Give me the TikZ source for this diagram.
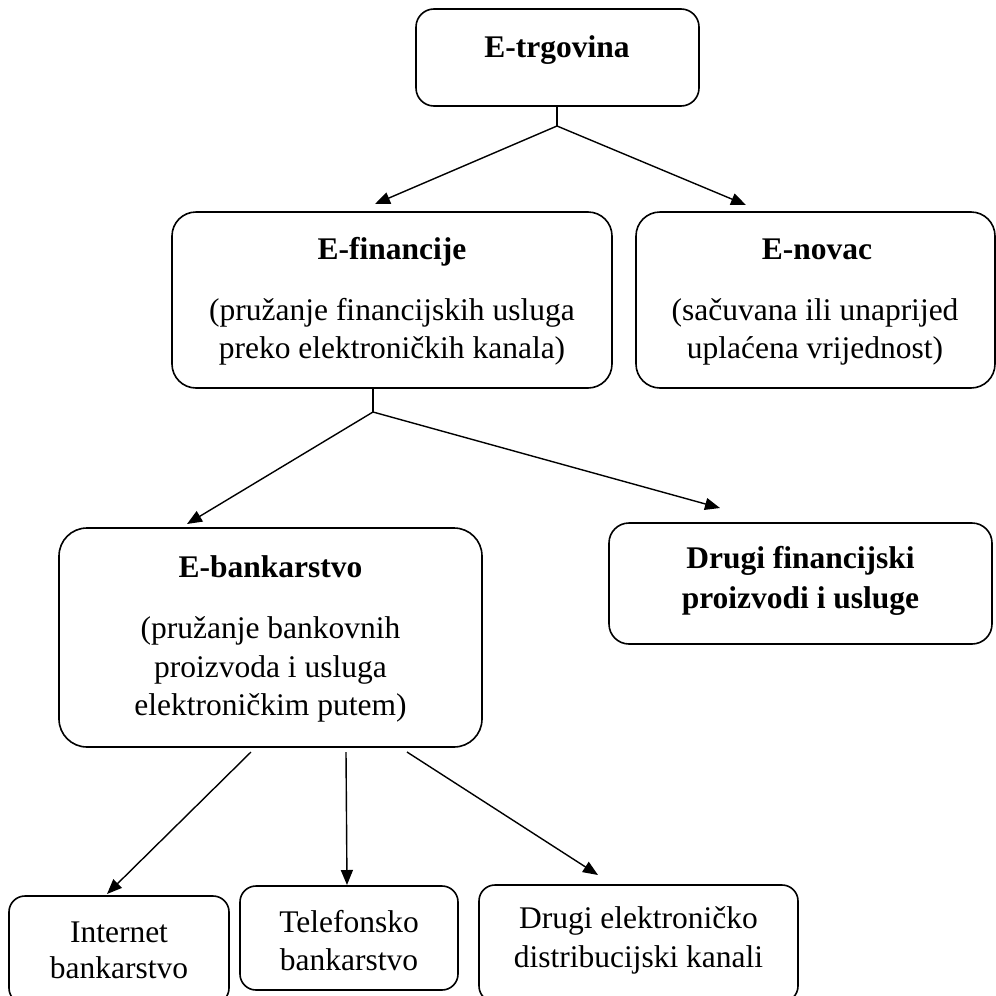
\documentclass[tikz,border=0pt]{standalone}
\usepackage{fontspec}
\setmainfont{Liberation Serif}
\usetikzlibrary{arrows.meta,calc}
\begin{document}
\begin{tikzpicture}[x=1pt,y=-1pt,
  box/.style={draw, line width=1.6pt, rounded corners=#1, inner sep=0pt, outer sep=0pt},
  box/.default=18pt,
  txt/.style={anchor=base, inner sep=0pt, font=\fontsize{31.5}{38}\selectfont},
  btxt/.style={anchor=base, inner sep=0pt, font=\fontsize{31.5}{38}\selectfont\bfseries},
  arr/.style={line width=1.4pt, -{Triangle[length=15pt,width=12pt]}},
  ln/.style={line width=1.4pt}]
\useasboundingbox (0,0) rectangle (996,996);
\clip (0,0) rectangle (996,996);

% boxes
\node[box=18pt, minimum width=283pt, minimum height=97pt] (trg) at (557.5,57.5) {};
\node[box=24pt, minimum width=440pt, minimum height=176pt] (fin) at (392,300) {};
\node[box=24pt, minimum width=359pt, minimum height=176pt] (nov) at (815.5,300) {};
\node[box=28pt, minimum width=423pt, minimum height=219pt] (bank) at (270.5,637.5) {};
\node[box=20pt, minimum width=383pt, minimum height=121pt] (dfp) at (800.5,583.5) {};
\node[box=16pt, minimum width=220pt, minimum height=108pt] (inet) at (119,950) {};
\node[box=16pt, minimum width=218pt, minimum height=104pt] (tel) at (349,938) {};
\node[box=16pt, minimum width=319pt, minimum height=117pt] (del) at (638.5,943.5) {};

% texts
\node[btxt] (trgA) at (557,57) {E-trgovina};
\node[btxt] (finA) at (392,259) {E-financije};
\node[txt] (finB) at (392,320) {(pružanje financijskih usluga};
\node[txt] (finC) at (392,358) {preko elektroničkih kanala)};
\node[btxt] (novA) at (817,259) {E-novac};
\node[txt] (novB) at (815,320) {(sačuvana ili unaprijed};
\node[txt] (novC) at (815,358) {uplaćena vrijednost)};
\node[btxt] (bankA) at (270.5,577) {E-bankarstvo};
\node[txt] (bankB) at (270.5,638) {(pružanje bankovnih};
\node[txt] (bankC) at (270.5,677) {proizvoda i usluga};
\node[txt] (bankD) at (270.5,715) {elektroničkim putem)};
\node[btxt] (dfpA) at (800.5,568) {Drugi financijski};
\node[btxt] (dfpB) at (800.5,608) {proizvodi i usluge};
\node[txt] (inetA) at (119,942) {Internet};
\node[txt] (inetB) at (119,978) {bankarstvo};
\node[txt] (telA) at (349,932) {Telefonsko};
\node[txt] (telB) at (349,970) {bankarstvo};
\node[txt] (delA) at (638.5,928) {Drugi elektroničko};
\node[txt] (delB) at (638.5,967) {distribucijski kanali};

% connector points
\coordinate (j1) at (557,126);
\coordinate (t1) at (375,204);
\coordinate (t2) at (746,205);
\coordinate (j2) at (373,412);
\coordinate (t3) at (187,524);
\coordinate (t4) at (720,508);
\coordinate (s5) at (251,752);
\coordinate (t5) at (107,894);
\coordinate (s6) at (346,752);
\coordinate (t6) at (347,885);
\coordinate (s7) at (407,752);
\coordinate (t7) at (598,875);

% connectors
\draw[ln] (j1 |- trg.south) -- (j1);
\draw[arr] (j1) -- (t1);
\draw[arr] (j1) -- (t2);
\draw[ln] (j2 |- fin.south) -- (j2);
\draw[arr] (j2) -- (t3);
\draw[arr] (j2) -- (t4);
\draw[arr] (s5) -- (t5);
\draw[arr] (s6) -- (t6);
\draw[arr] (s7) -- (t7);
\end{tikzpicture}
\end{document}
